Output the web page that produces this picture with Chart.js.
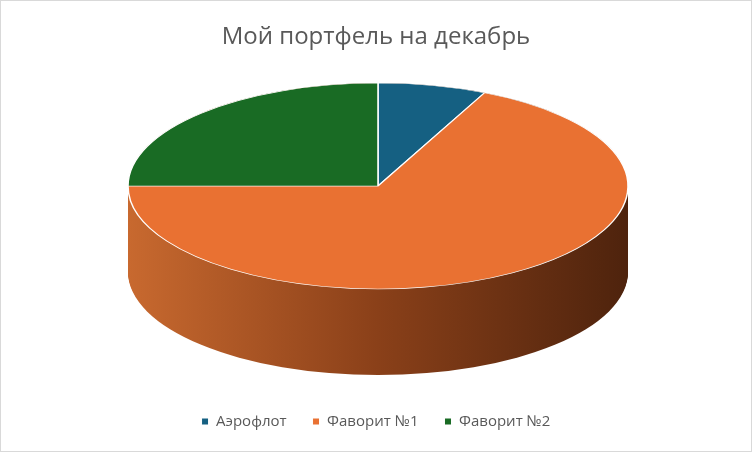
<!DOCTYPE html>
<html><head><meta charset="utf-8">
<script src="https://cdn.jsdelivr.net/npm/chart.js@4"></script>
<style>html,body{margin:0;background:#fff}#w{width:750px;height:450px;border:1px solid #d9d9d9}</style>
</head><body><div id="w"><canvas id="c"></canvas></div>
<script>
const categories=["Аэрофлот","Фаворит №1","Фаворит №2"];
const values=[7,68,25];
const colors=["#156082","#E97132","#196B24"];
const CX=377, CY=185, RX=250, RY=103, DEPTH=86;
const pie3d={id:'pie3d',
 beforeDatasetsDraw(chart){
  const a=chart.getDatasetMeta(0).data[0]; if(!a)return;
  const ctx=chart.ctx, R=a.outerRadius, sx=RX/R, sy=RY/R;
  ctx.save();
  const g=ctx.createLinearGradient(CX-RX,0,CX+RX,0);
  g.addColorStop(0,'#c8692f');g.addColorStop(0.5,'#8a4019');g.addColorStop(1,'#4e230d');
  ctx.fillStyle=g;
  for(let d=DEPTH;d>=0;d--){ctx.beginPath();ctx.ellipse(CX,CY+d,RX,RY,0,0,Math.PI*2);ctx.fill();}
  ctx.translate(CX,CY);ctx.scale(sx,sy);ctx.translate(-a.x,-a.y);
 },
 afterDatasetsDraw(chart){chart.ctx.restore();}
};
new Chart(document.getElementById('c'),{type:'pie',
 data:{labels:categories,datasets:[{data:values,backgroundColor:colors,borderColor:'#fff',borderWidth:1}]},
 options:{responsive:true,maintainAspectRatio:false,animation:false,events:[],
  layout:{padding:{top:10,bottom:12}},
  plugins:{tooltip:{enabled:false},
   title:{display:true,text:'Мой портфель на декабрь',color:'#595959',font:{family:'Open Sans',size:24,weight:'normal'},padding:{top:12,bottom:10}},
   legend:{position:'bottom',labels:{usePointStyle:true,pointStyle:'rect',boxWidth:7,boxHeight:7,padding:26,color:'#595959',font:{family:'Open Sans',size:15}}}}},
 plugins:[pie3d]});
</script></body></html>
